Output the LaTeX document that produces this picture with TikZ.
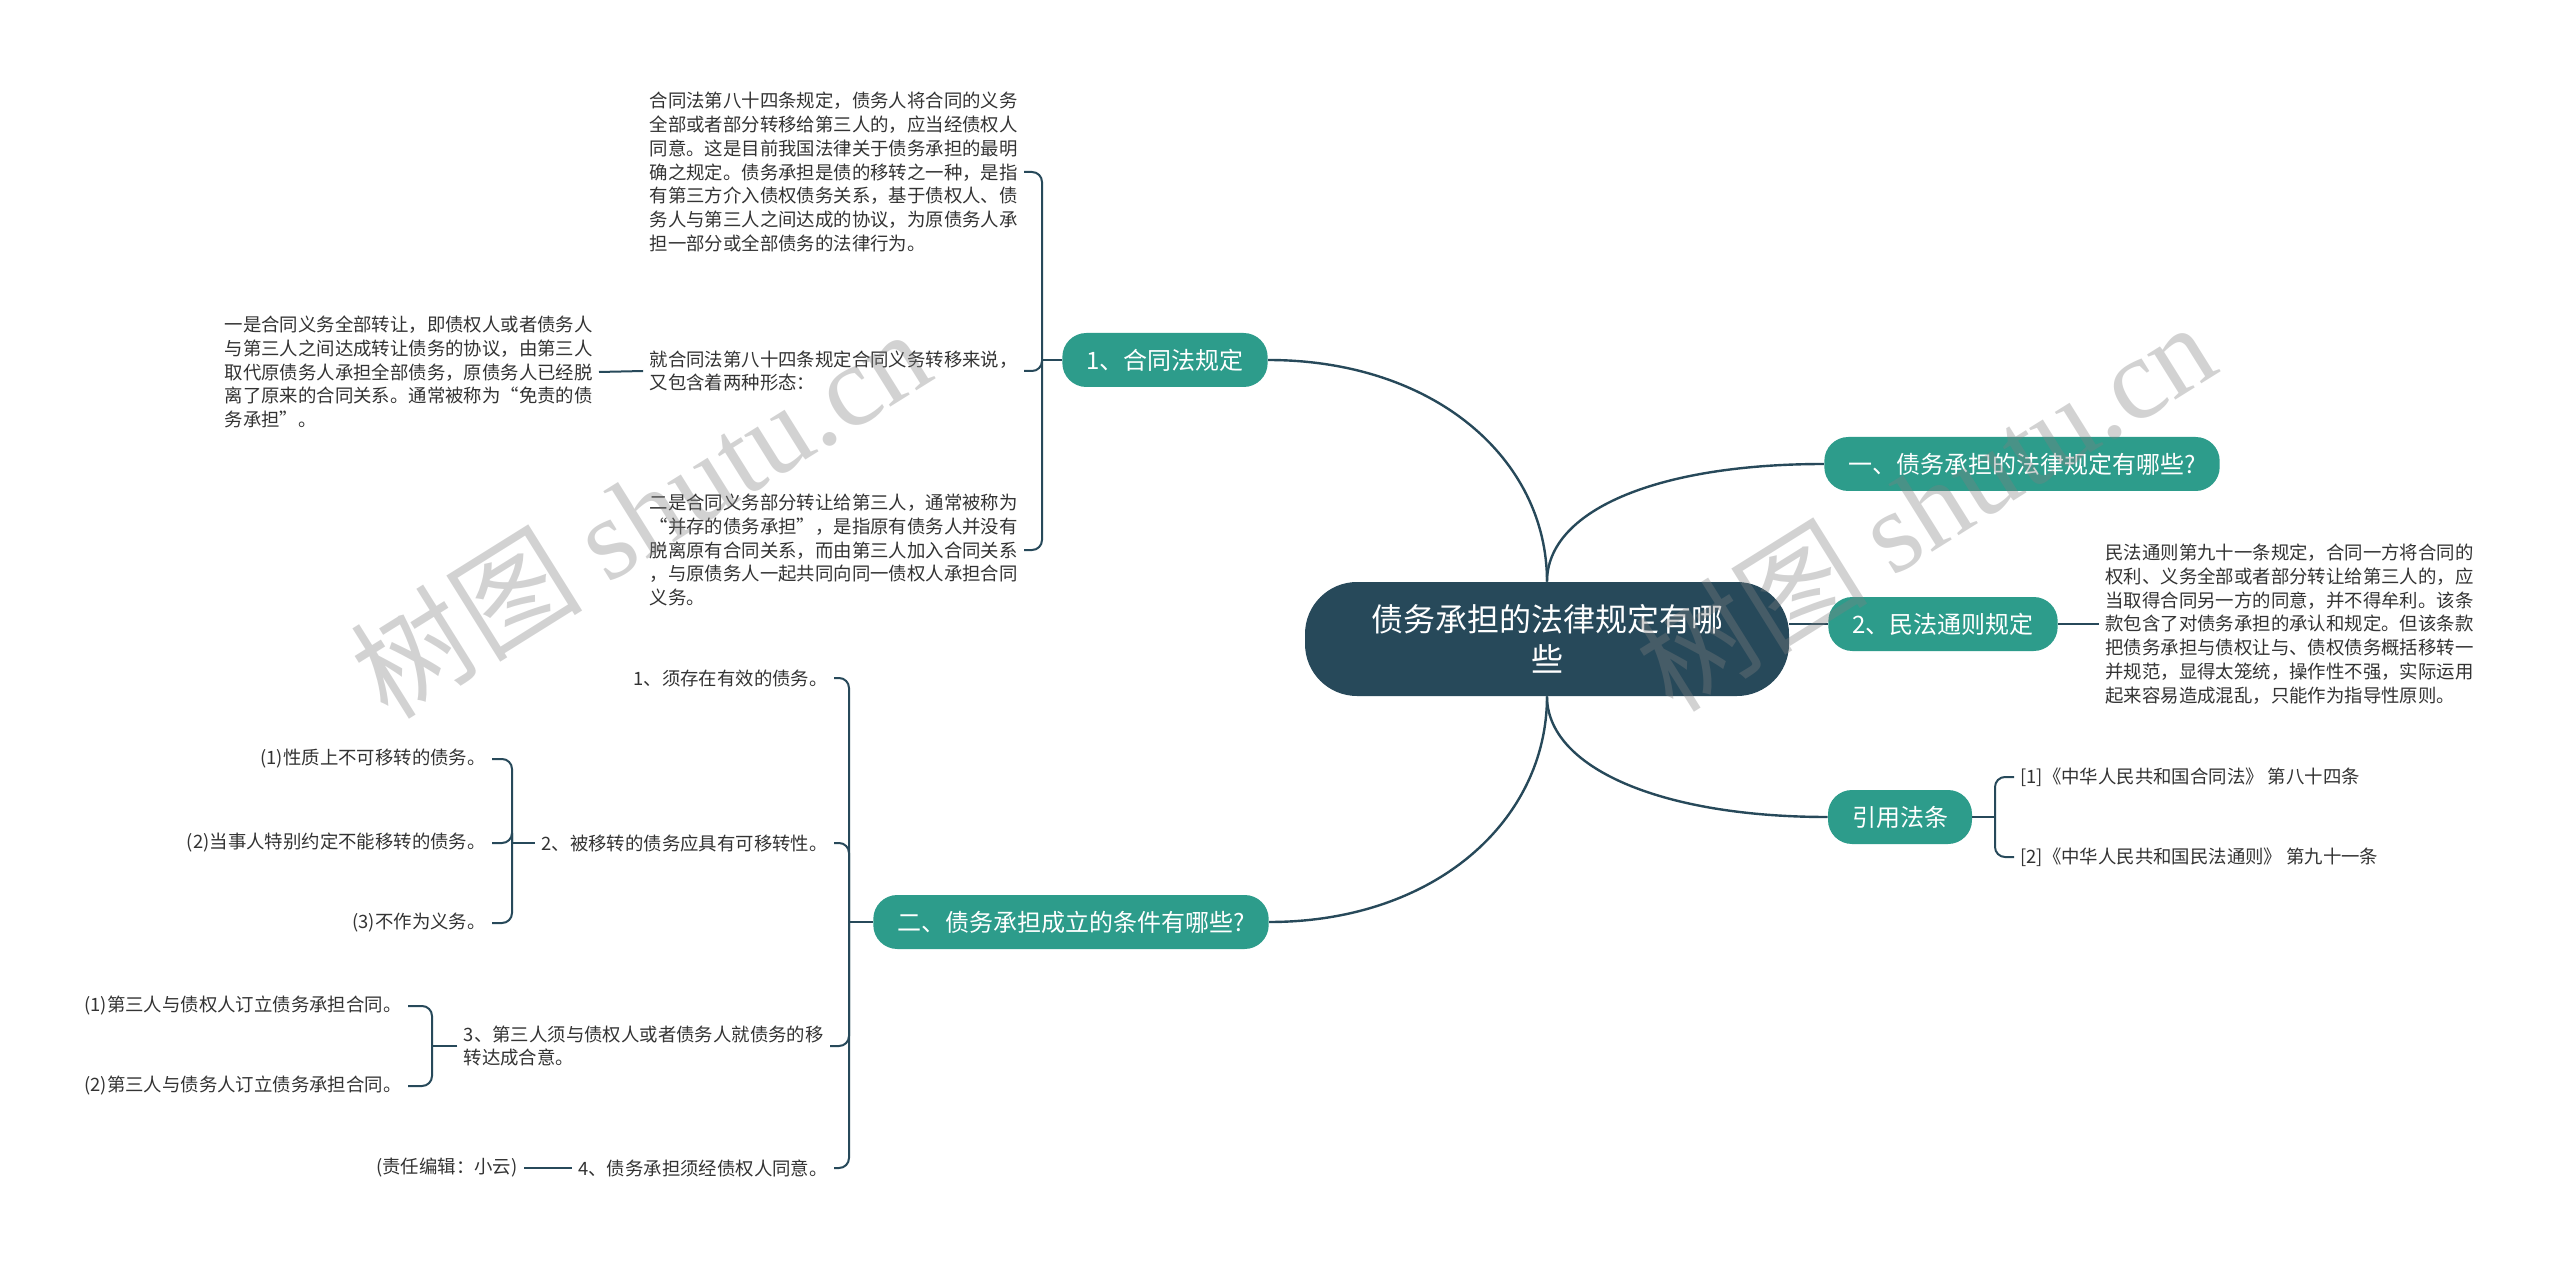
\documentclass[tikz,border=0pt]{standalone}
\usepackage{fontspec}
\setmainfont{Noto Sans CJK SC}
\newfontfamily\wmserif{Liberation Serif}
\definecolor{deep}{HTML}{27495A}
\definecolor{sea}{HTML}{2D9C8B}
\definecolor{ink}{HTML}{333333}

\begin{document}
\begin{tikzpicture}[x=0.5pt,y=-0.5pt,
		conn/.style={draw=deep,line width=1.2pt},
		brk/.style={draw=deep,line width=1pt,rounded corners=5pt},
		root/.style={fill=deep,text=white,rounded corners=26pt,minimum width=242pt,minimum height=57pt,align=center,font=\fontsize{16}{20}\selectfont},
		topic/.style={fill=sea,text=white,rounded corners=12pt,minimum height=27pt,inner xsep=12pt,font=\fontsize{12}{14}\selectfont},
		leaf/.style={text=ink,align=left,inner sep=3pt,font=\fontsize{9.2}{11.9}\selectfont},
		wm/.style={text=gray,text opacity=0.35,rotate=32,font=\fontsize{58}{58}\selectfont}]
			\fill[white] (0,0) rectangle (2560,1267);
			\useasboundingbox (0,0) rectangle (2560,1267);
			\node[root] (root) at (1547,639) {债务承担的法律规定有哪\\些};
			\node[topic] (hetong) at (1165,360) {1、合同法规定};
			\node[topic] (falv) at (2022,464) {一、债务承担的法律规定有哪些?};
			\node[topic] (minfa) at (1943,624) {2、民法通则规定};
			\node[topic] (yinyong) at (1900,817) {引用法条};
			\node[topic] (tiaojian) at (1071,922) {二、债务承担成立的条件有哪些?};
			\node[leaf,anchor=east] (hta) at (1024,172) {合同法第八十四条规定，债务人将合同的义务\\全部或者部分转移给第三人的，应当经债权人\\同意。这是目前我国法律关于债务承担的最明\\确之规定。债务承担是债的移转之一种，是指\\有第三方介入债权债务关系，基于债权人、债\\务人与第三人之间达成的协议，为原债务人承\\担一部分或全部债务的法律行为。};
			\node[leaf,anchor=east] (htb) at (1024,371) {就合同法第八十四条规定合同义务转移来说，\\又包含着两种形态：};
			\node[leaf,anchor=east] (htc) at (1024,550) {二是合同义务部分转让给第三人，通常被称为\\“并存的债务承担”，是指原有债务人并没有\\脱离原有合同关系，而由第三人加入合同关系\\，与原债务人一起共同向同一债权人承担合同\\义务。};
			\node[leaf,anchor=east] (htd) at (599,372) {一是合同义务全部转让，即债权人或者债务人\\与第三人之间达成转让债务的协议，由第三人\\取代原债务人承担全部债务，原债务人已经脱\\离了原来的合同关系。通常被称为“免责的债\\务承担”。};
			\node[leaf,anchor=east] (tja) at (834,678) {1、须存在有效的债务。};
			\node[leaf,anchor=east] (tjb) at (834,843) {2、被移转的债务应具有可移转性。};
			\node[leaf,anchor=east] (tjc) at (830,1046) {3、第三人须与债权人或者债务人就债务的移\\转达成合意。};
			\node[leaf,anchor=east] (tjd) at (834,1168) {4、债务承担须经债权人同意。};
			\node[leaf,anchor=east] (tjba) at (492,759) {(1)性质上不可移转的债务。};
			\node[leaf,anchor=east] (tjbb) at (492,843) {(2)当事人特别约定不能移转的债务。};
			\node[leaf,anchor=east] (tjbc) at (492,923) {(3)不作为义务。};
			\node[leaf,anchor=east] (tjca) at (408,1006) {(1)第三人与债权人订立债务承担合同。};
			\node[leaf,anchor=east] (tjcb) at (408,1086) {(2)第三人与债务人订立债务承担合同。};
			\node[leaf,anchor=east] (tjda) at (524,1168) {(责任编辑：小云)};
			\node[leaf,anchor=west] (mfa) at (2099,624) {民法通则第九十一条规定，合同一方将合同的\\权利、义务全部或者部分转让给第三人的，应\\当取得合同另一方的同意，并不得牟利。该条\\款包含了对债务承担的承认和规定。但该条款\\把债务承担与债权让与、债权债务概括移转一\\并规范，显得太笼统，操作性不强，实际运用\\起来容易造成混乱，只能作为指导性原则。};
			\node[leaf,anchor=west] (yya) at (2014,777) {[1]《中华人民共和国合同法》 第八十四条};
			\node[leaf,anchor=west] (yyb) at (2014,857) {[2]《中华人民共和国民法通则》 第九十一条};
			\path
			(1042,360) coordinate (hj)
			(849,922) coordinate (tj)
			(512,843) coordinate (tjbj)
			(432,1046) coordinate (tjcj)
			(1995,817) coordinate (yyj);
			\draw[conn] (hetong.east) .. controls +(166,0) and +(0,-123) .. (root.north);
			\draw[conn] (falv.west) .. controls +(-170,0) and +(0,-70) .. (root.north);
			\draw[conn] (minfa.west) -- (minfa.west -| root.east);
			\draw[conn] (yinyong.west) .. controls +(-170,0) and +(0,70) .. (root.south);
			\draw[conn] (tiaojian.east) .. controls +(166,0) and +(0,124) .. (root.south);
			\draw[brk] (hetong.west) -- (hj);
			\foreach \n in {hta,htb,htc} \draw[brk] (hj) |- (\n.east);
			\draw[brk] (htd.east) -- (htb.west);
			\draw[brk] (tiaojian.west) -- (tj);
			\foreach \n in {tja,tjb,tjc,tjd} \draw[brk] (tj) |- (\n.east);
			\draw[brk] (tjb.west) -- (tjbj);
			\foreach \n in {tjba,tjbb,tjbc} \draw[brk] (tjbj) |- (\n.east);
			\draw[brk] (tjc.west) -- (tjcj);
			\foreach \n in {tjca,tjcb} \draw[brk] (tjcj) |- (\n.east);
			\draw[brk] (tjda.east) -- (tjd.west);
			\draw[brk] (minfa.east) -- (mfa.west);
			\draw[brk] (yinyong.east) -- (yyj);
			\foreach \n in {yya,yyb} \draw[brk] (yyj) |- (\n.west);
			\foreach \x/\y/\n in {640/512/1,1925/505/2} \node[wm] (wm\n) at (\x,\y) {树图 {\wmserif shutu.cn}};
		\end{tikzpicture}
\end{document}
